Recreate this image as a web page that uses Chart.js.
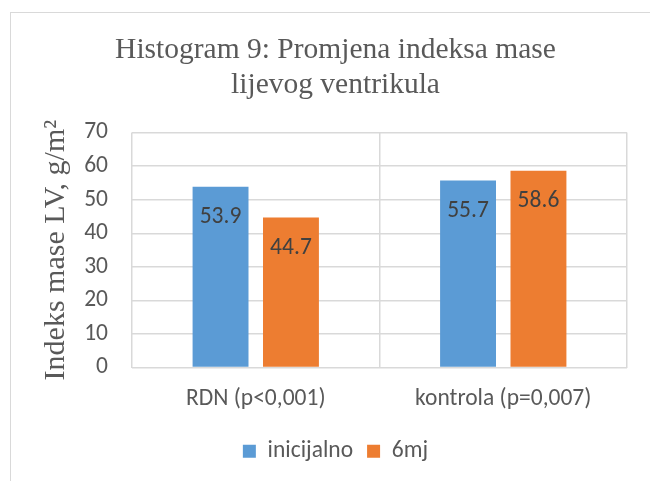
<!DOCTYPE html>
<html>
<head>
<meta charset="utf-8">
<script src="https://cdn.jsdelivr.net/npm/chart.js@4"></script>
<style>
  body { margin: 0; overflow: hidden; background: #fff; }
  #frame {
    position: absolute; left: 10px; top: 12px;
    width: 700px; height: 600px;
    border: 1.5px solid #d9d9d9;
  }
  #wrap { position: absolute; left: 0; top: 0; width: 650px; height: 481px; }
</style>
</head>
<body>
<div id="frame"></div>
<div id="wrap"><canvas id="myChart" width="650" height="481"></canvas></div>
<script>
const categories = ["RDN (p<0,001)", "kontrola (p=0,007)"];
const initialValues = [53.9, 55.7];
const sixMonthValues = [44.7, 58.6];
const seriesNames = ["inicijalno", "6mj"];
const titleLines = ["Histogram 9: Promjena indeksa mase", "lijevog ventrikula"];
const yAxisTitle = "Indeks mase LV, g/m\u00B2";

const sansFont = "Carlito, Lato, sans-serif";
const serifFont = "'Liberation Serif', 'Times New Roman', serif";

// labels inside the top of each bar, like Excel's "inside end"
const barLabels = {
  id: "barLabels",
  afterDatasetsDraw(chart) {
    const ctx = chart.ctx;
    ctx.save();
    ctx.font = "23.5px " + sansFont;
    ctx.fillStyle = "#404040";
    ctx.textAlign = "center";
    ctx.textBaseline = "alphabetic";
    chart.data.datasets.forEach((ds, i) => {
      const meta = chart.getDatasetMeta(i);
      meta.data.forEach((bar, j) => {
        ctx.fillText(ds.data[j].toFixed(1), bar.x, bar.y + 36);
      });
    });
    ctx.restore();
  },
};

// the original frame is wider than the picture, so title and legend sit a bit right of centre
const shiftBlocks = {
  id: "shiftBlocks",
  afterLayout(chart) {
    [chart.titleBlock, chart.legend].forEach((b) => {
      if (!b) return;
      b.left += 22;
      b.right += 22;
    });
  },
};

new Chart(document.getElementById("myChart"), {
  type: "bar",
  data: {
    labels: categories,
    datasets: [
      {
        label: seriesNames[0],
        data: initialValues,
        backgroundColor: "#5B9BD5",
        categoryPercentage: 0.569,
        barPercentage: 0.794,
      },
      {
        label: seriesNames[1],
        data: sixMonthValues,
        backgroundColor: "#ED7D31",
        categoryPercentage: 0.569,
        barPercentage: 0.794,
      },
    ],
  },
  options: {
    responsive: false,
    animation: false,
    layout: { padding: { left: 0, right: 23, top: 0, bottom: 8 } },
    plugins: {
      title: {
        display: true,
        text: titleLines,
        color: "#595959",
        font: { family: serifFont, size: 29.5, weight: "normal", lineHeight: 1.18 },
        padding: { top: 33, bottom: 30 },
      },
      legend: {
        position: "bottom",
        labels: {
          boxWidth: 13,
          boxHeight: 13,
          padding: 14,
          color: "#595959",
          font: { family: sansFont, size: 23.5 },
        },
      },
      tooltip: { enabled: false },
    },
    scales: {
      x: {
        grid: { offset: true, color: "#d9d9d9", lineWidth: 1.5, drawTicks: false },
        border: { display: false },
        ticks: { color: "#595959", font: { family: sansFont, size: 23.5 }, padding: 18 },
        afterFit: (s) => { s.height = 58; },
      },
      y: {
        min: 0,
        max: 70,
        ticks: { stepSize: 10, color: "#595959", font: { family: sansFont, size: 23.5 }, padding: 24 },
        grid: { color: "#d9d9d9", lineWidth: 1.5, drawTicks: false },
        border: { display: false },
        title: {
          display: true,
          text: yAxisTitle,
          color: "#595959",
          font: { family: serifFont, size: 30, weight: "normal" },
          padding: { top: 38, bottom: 0 },
        },
        afterFit: (s) => { s.width = 132; },
      },
    },
  },
  plugins: [barLabels, shiftBlocks],
});
</script>
</body>
</html>
